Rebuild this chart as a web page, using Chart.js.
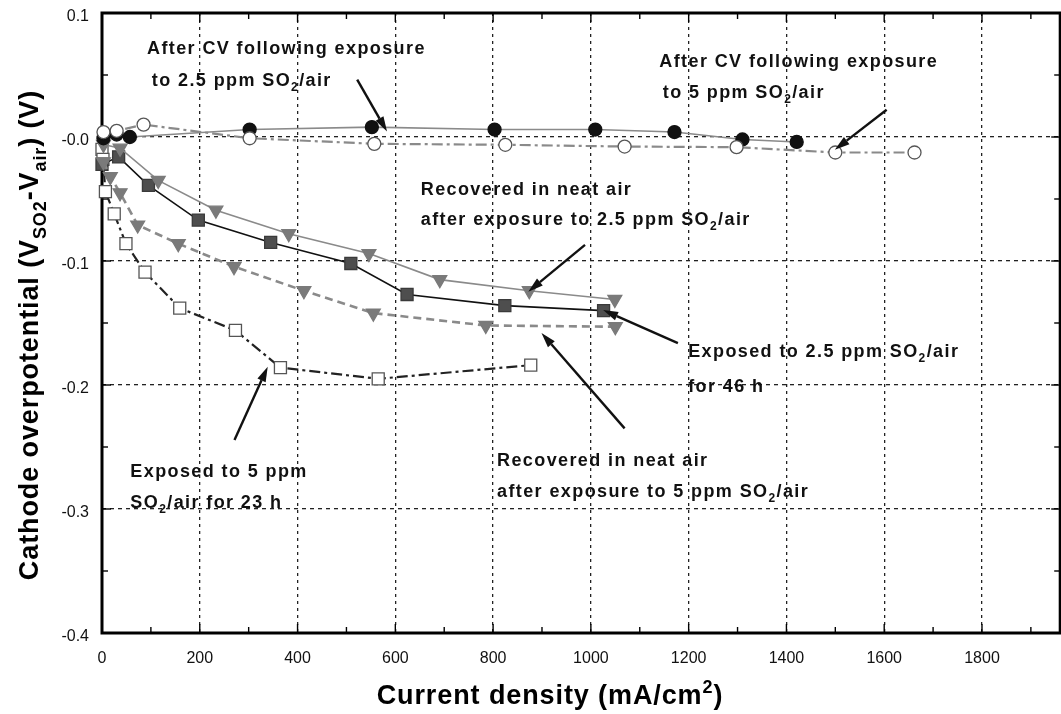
<!DOCTYPE html>
<html><head><meta charset="utf-8">
<script src="https://cdn.jsdelivr.net/npm/chart.js@4.4.0/dist/chart.umd.min.js"></script>
<style>
html,body{margin:0;padding:0;background:#fff;overflow:hidden}
#wrap{width:1061px;height:714px;overflow:hidden;position:relative;background:#fff}
canvas{display:block}
</style></head>
<body><div id="wrap"><canvas id="c" width="1070" height="714" style="width:1070px;height:714px"></canvas></div>
<script>
// ---- data (current density mA/cm2, overpotential V) ----
const cv25X = [3, 30, 57, 302, 552, 803, 1009, 1171, 1310, 1421];
const cv25Y = [-0.001, 0.002, 0.000, 0.006, 0.008, 0.006, 0.006, 0.004, -0.002, -0.004];
const cv5X = [3, 30, 85, 302, 557, 825, 1069, 1298, 1500, 1662];
const cv5Y = [0.004, 0.005, 0.010, -0.001, -0.0055, -0.0063, -0.0077, -0.0082, -0.0125, -0.0125];
const exp25X = [0, 34, 95, 197, 345, 509, 624, 824, 1026];
const exp25Y = [-0.022, -0.016, -0.039, -0.067, -0.085, -0.102, -0.127, -0.136, -0.140];
const rec25X = [3, 37, 115, 233, 382, 546, 691, 874, 1049];
const rec25Y = [-0.006, -0.009, -0.035, -0.059, -0.078, -0.094, -0.115, -0.124, -0.131];
const rec5X = [3, 17, 37, 73, 156, 270, 413, 555, 785, 1050];
const rec5Y = [-0.020, -0.032, -0.045, -0.071, -0.086, -0.1045, -0.124, -0.142, -0.152, -0.153];
const exp5X = [0, 2, 7, 25, 49, 88, 159, 273, 365, 565, 877];
const exp5Y = [-0.010, -0.018, -0.044, -0.062, -0.086, -0.109, -0.138, -0.156, -0.186, -0.195, -0.184];

// ---- axes ----
const xTicks = [0, 200, 400, 600, 800, 1000, 1200, 1400, 1600, 1800];
const yTicks = [-0.4, -0.3, -0.2, -0.1, 0, 0.1];
const yTickLabels = ['-0.4', '-0.3', '-0.2', '-0.1', '-0.0', '0.1'];
const xMin = 0, xMax = 1960, xStep = 200;
const yMin = -0.4, yMax = 0.1, yStep = 0.1;
const xTitle = ['Current density (mA/cm', {sup:'2'}, ')'];
const yTitle = ['Cathode overpotential (V', {sub:'SO2'}, '-V', {sub:'air'}, ') (V)'];

// annotation labels (positions in data units)
const notes = [
  {x: 92,  y: 0.0718, parts: ['After CV following exposure']},
  {x: 102, y: 0.0462, parts: ['to 2.5 ppm SO', {sub:'2'}, '/air']},
  {x: 1140, y: 0.0617, parts: ['After CV following exposure']},
  {x: 1147, y: 0.0367, parts: ['to 5 ppm SO', {sub:'2'}, '/air']},
  {x: 652, y: -0.0412, parts: ['Recovered in neat air']},
  {x: 652, y: -0.0655, parts: ['after exposure to 2.5 ppm SO', {sub:'2'}, '/air']},
  {x: 1199, y: -0.1723, parts: ['Exposed to 2.5 ppm SO', {sub:'2'}, '/air']},
  {x: 1199, y: -0.2008, parts: ['for 46 h']},
  {x: 58, y: -0.2686, parts: ['Exposed to 5 ppm']},
  {x: 58, y: -0.2942, parts: ['SO', {sub:'2'}, '/air for 23 h']},
  {x: 808, y: -0.2600, parts: ['Recovered in neat air']},
  {x: 808, y: -0.2853, parts: ['after exposure to 5 ppm SO', {sub:'2'}, '/air']}
];
const arrows = [
  {x1: 522, y1: 0.0462, x2: 583, y2: 0.0044},
  {x1: 1605, y1: 0.022, x2: 1499, y2: -0.0103},
  {x1: 988, y1: -0.087, x2: 872, y2: -0.1247},
  {x1: 1178, y1: -0.1663, x2: 1025, y2: -0.1395},
  {x1: 1069, y1: -0.235, x2: 899, y2: -0.158},
  {x1: 271, y1: -0.2444, x2: 339, y2: -0.1852}
];

const FONT = "'Liberation Sans', Arial, Helvetica, sans-serif";
const pts = (xs, ys) => xs.map((v, i) => ({x: v, y: ys[i]}));

function drawRich(ctx, parts, x, y, size) {
  const small = Math.round(size * 0.68);
  let cx = x;
  ctx.textBaseline = 'alphabetic';
  ctx.textAlign = 'left';
  for (const p of parts) {
    if (typeof p === 'string') {
      ctx.font = 'bold ' + size + 'px ' + FONT;
      ctx.fillText(p, cx, y);
      cx += ctx.measureText(p).width;
    } else if (p.sub) {
      ctx.font = 'bold ' + small + 'px ' + FONT;
      ctx.fillText(p.sub, cx, y + size * 0.28);
      cx += ctx.measureText(p.sub).width;
    } else if (p.sup) {
      ctx.font = 'bold ' + small + 'px ' + FONT;
      ctx.fillText(p.sup, cx, y - size * 0.42);
      cx += ctx.measureText(p.sup).width;
    }
  }
  return cx - x;
}
function richWidth(ctx, parts, size) {
  const small = Math.round(size * 0.68);
  let w = 0;
  for (const p of parts) {
    if (typeof p === 'string') { ctx.font = 'bold ' + size + 'px ' + FONT; w += ctx.measureText(p).width; }
    else { ctx.font = 'bold ' + small + 'px ' + FONT; w += ctx.measureText(p.sub || p.sup).width; }
  }
  return w;
}

const decor = {
  id: 'decor',
  beforeDatasetsDraw(chart) {
    const {ctx, chartArea: a, scales: {x, y}} = chart;
    ctx.save();
    ctx.strokeStyle = '#000';
    ctx.lineWidth = 1.4;
    ctx.setLineDash([]);
    const seg = (x1, y1, x2, y2) => { ctx.beginPath(); ctx.moveTo(x1, y1); ctx.lineTo(x2, y2); ctx.stroke(); };
    for (let v = xMin; v <= xMax; v += xStep / 2) {
      const px = x.getPixelForValue(v);
      const L = (v % xStep === 0) ? 9 : 6;
      seg(px, a.bottom, px, a.bottom - L);
      seg(px, a.top, px, a.top + L);
    }
    for (let k = 0; k <= Math.round((yMax - yMin) / (yStep / 2)); k++) {
      const v = yMin + k * yStep / 2;
      const py = y.getPixelForValue(v);
      const L = (k % 2 === 0) ? 9 : 6;
      seg(a.left, py, a.left + L, py);
      seg(a.right, py, a.right - L, py);
    }
    ctx.lineWidth = 3;
    ctx.strokeRect(a.left, a.top, a.right - a.left, a.bottom - a.top);
    ctx.restore();
  },
  afterDraw(chart) {
    const {ctx, scales: {x, y}} = chart;
    ctx.save();
    ctx.fillStyle = '#111';
    ctx.letterSpacing = '1.4px';
    for (const n of notes) {
      drawRich(ctx, n.parts, x.getPixelForValue(n.x), y.getPixelForValue(n.y) + 6.5, 18);
    }
    ctx.letterSpacing = '0px';
    ctx.strokeStyle = '#111';
    ctx.lineWidth = 2.4;
    for (const r of arrows) {
      const x1 = x.getPixelForValue(r.x1), y1 = y.getPixelForValue(r.y1);
      const x2 = x.getPixelForValue(r.x2), y2 = y.getPixelForValue(r.y2);
      const ang = Math.atan2(y2 - y1, x2 - x1);
      const hl = 15, hw = 4.5;
      const bx = x2 - Math.cos(ang) * hl, by = y2 - Math.sin(ang) * hl;
      ctx.beginPath(); ctx.moveTo(x1, y1); ctx.lineTo(bx, by); ctx.stroke();
      ctx.beginPath();
      ctx.moveTo(x2, y2);
      ctx.lineTo(bx + Math.sin(ang) * hw, by - Math.cos(ang) * hw);
      ctx.lineTo(bx - Math.sin(ang) * hw, by + Math.cos(ang) * hw);
      ctx.closePath(); ctx.fill();
    }
    // axis titles
    ctx.fillStyle = '#000';
    const xs = 27;
    ctx.letterSpacing = '0.9px';
    const wx = richWidth(ctx, xTitle, xs);
    drawRich(ctx, xTitle, 550 - wx / 2, 704, xs);
    const ys = 27;
    ctx.letterSpacing = '0.9px';
    const wy = richWidth(ctx, yTitle, ys);
    ctx.translate(38, 335);
    ctx.rotate(-Math.PI / 2);
    drawRich(ctx, yTitle, -wy / 2, 0, ys);
    ctx.restore();
  }
};

const common = {showLine: true, clip: false, pointBorderWidth: 1.3};
new Chart(document.getElementById('c'), {
  type: 'scatter',
  data: {
    datasets: [
      Object.assign({}, common, {label: 'cv5', data: pts(cv5X, cv5Y), borderColor: '#8a8a8a', borderWidth: 2.2, borderDash: [11, 4, 3, 4],
        pointStyle: 'circle', pointRadius: 6.5, pointBackgroundColor: '#fff', pointBorderColor: '#555'}),
      Object.assign({}, common, {label: 'cv25', data: pts(cv25X, cv25Y), borderColor: '#8a8a8a', borderWidth: 1.6,
        pointStyle: 'circle', pointRadius: 6.5, pointBackgroundColor: '#111', pointBorderColor: '#111'}),
      Object.assign({}, common, {label: 'rec5', data: pts(rec5X, rec5Y), borderColor: '#8a8a8a', borderWidth: 2.6, borderDash: [8, 5],
        pointStyle: 'triangle', pointRotation: 180, pointRadius: 8, pointBackgroundColor: '#7a7a7a', pointBorderColor: '#7a7a7a'}),
      Object.assign({}, common, {label: 'rec25', data: pts(rec25X, rec25Y), borderColor: '#8a8a8a', borderWidth: 1.6,
        pointStyle: 'triangle', pointRotation: 180, pointRadius: 8, pointBackgroundColor: '#7a7a7a', pointBorderColor: '#7a7a7a'}),
      Object.assign({}, common, {label: 'exp25', data: pts(exp25X, exp25Y), borderColor: '#111', borderWidth: 1.6,
        pointStyle: 'rect', pointRadius: 8.5, pointBackgroundColor: '#4e4e4e', pointBorderColor: '#3a3a3a'}),
      Object.assign({}, common, {label: 'exp5', data: pts(exp5X, exp5Y), borderColor: '#222', borderWidth: 2.2, borderDash: [11, 4, 3, 4],
        pointStyle: 'rect', pointRadius: 8.5, pointBackgroundColor: '#fff', pointBorderColor: '#555'})
    ]
  },
  options: {
    responsive: false,
    animation: false,
    devicePixelRatio: 1,
    layout: {padding: {top: 13, right: 6, left: 0, bottom: 0}},
    plugins: {legend: {display: false}, tooltip: {enabled: false}},
    elements: {line: {tension: 0}},
    scales: {
      x: {
        type: 'linear', min: xMin, max: xMax,
        afterBuildTicks(s) { s.ticks = xTicks.map(v => ({value: v})); },
        afterFit(s) { s.height = 81; s.paddingLeft = 0; s.paddingRight = 0; },
        ticks: {color: '#111', padding: 16, maxRotation: 0, autoSkip: false,
          font: {family: FONT, size: 16}, callback: v => String(v)},
        grid: {color: '#222', lineWidth: 1.3, drawTicks: false},
        border: {display: false, dash: [3, 4]}
      },
      y: {
        type: 'linear', min: yMin, max: yMax,
        afterBuildTicks(s) { s.ticks = yTicks.map(v => ({value: v})); },
        afterFit(s) { s.width = 102; s.paddingTop = 0; s.paddingBottom = 0; },
        ticks: {color: '#111', padding: 13, labelOffset: 4, autoSkip: false,
          font: {family: FONT, size: 16},
          callback: (v, i) => yTickLabels[i]},
        grid: {color: '#222', lineWidth: 1.3, drawTicks: false},
        border: {display: false, dash: [4, 4]}
      }
    }
  },
  plugins: [decor]
});
</script>
</body></html>
